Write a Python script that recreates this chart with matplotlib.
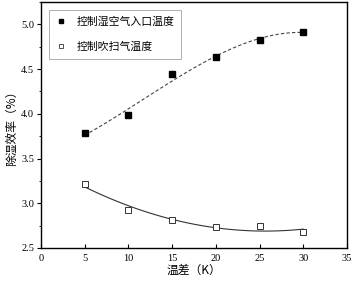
import numpy as np
import matplotlib
matplotlib.use('Agg')
import matplotlib.pyplot as plt
from matplotlib.ticker import MultipleLocator

plt.rcParams['font.family'] = ['Noto Sans CJK SC', 'DejaVu Sans']

# 数据
temp_diff = [5, 10, 15, 20, 25, 30]
inlet_eff = [3.78, 3.99, 4.44, 4.63, 4.82, 4.92]
sweep_eff = [3.21, 2.93, 2.81, 2.73, 2.74, 2.68]
labels = ['控制湿空气入口温度', '控制吹扫气温度']

num_font = 'Liberation Serif'

fig = plt.figure(figsize=(3.54, 2.86), dpi=100)
ax = fig.add_axes([0.116, 0.133, 0.864, 0.86])

# 拟合曲线
xs = np.linspace(5, 30, 100)
p1 = np.polyfit(temp_diff, inlet_eff, 3)
p2 = np.polyfit(temp_diff, sweep_eff, 2)
ax.plot(xs, np.polyval(p1, xs), '--', color='#444444', lw=0.8, dashes=(3, 2))
ax.plot(xs, np.polyval(p2, xs), '-', color='#333333', lw=0.8)

ax.plot(temp_diff, inlet_eff, 's', color='black', ms=4.5, linestyle='none')
ax.plot(temp_diff, sweep_eff, 's', mfc='white', mec='#333333', mew=0.7, ms=4.5,
        linestyle='none')

# 图例用小号标记
h1, = ax.plot([], [], 's', color='black', ms=3.2, label=labels[0])
h2, = ax.plot([], [], 's', mfc='white', mec='#333333', mew=0.6, ms=3.2, label=labels[1])

ax.set_xlim(0, 35)
ax.set_ylim(2.5, 5.25)
ax.xaxis.set_major_locator(MultipleLocator(5))
ax.yaxis.set_major_locator(MultipleLocator(0.5))
ax.yaxis.set_minor_locator(MultipleLocator(0.25))

ax.tick_params(axis='y', which='major', direction='out', length=3, width=0.8, labelsize=7.5, pad=2)
ax.tick_params(axis='y', which='minor', direction='out', length=1.8, width=0.6)
ax.tick_params(axis='x', which='major', direction='in', length=3, width=0.8, labelsize=7.5, pad=4)
for lab in ax.get_xticklabels() + ax.get_yticklabels():
    lab.set_fontfamily(num_font)
for s in ax.spines.values():
    s.set_linewidth(1.0)

ax.set_xlabel('温差（K）', fontsize=8.5, labelpad=1)
ax.set_ylabel('除湿效率（%）', fontsize=8.5, labelpad=2)

leg = ax.legend(handles=[h1, h2], loc='upper left', fontsize=7.8, frameon=True, fancybox=False,
                edgecolor='#999999', borderaxespad=0.7, borderpad=0.6, handletextpad=1.0,
                labelspacing=1.4, handlelength=1.0)
leg.get_frame().set_linewidth(0.7)

fig.savefig('out.png', dpi=100)
